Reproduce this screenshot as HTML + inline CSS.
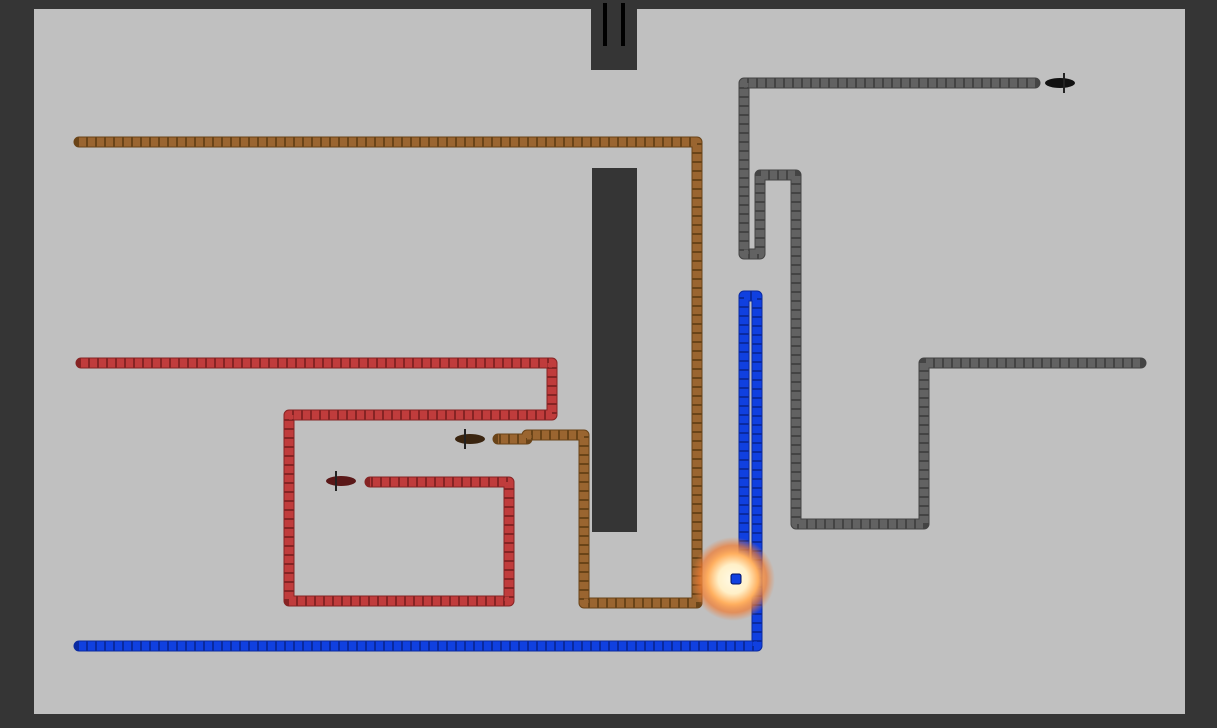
<!DOCTYPE html>
<html><head><meta charset="utf-8"><style>
html,body{margin:0;padding:0;background:#353535;}
svg{display:block;}
</style></head><body>
<svg width="1217" height="728" viewBox="0 0 1217 728" xmlns="http://www.w3.org/2000/svg">
<defs>
<radialGradient id="ex" cx="50%" cy="50%" r="50%">
<stop offset="0" stop-color="#fffbe8"/>
<stop offset="0.35" stop-color="#fff0c8"/>
<stop offset="0.6" stop-color="#ffb060"/>
<stop offset="0.8" stop-color="#f07a30" stop-opacity="0.7"/>
<stop offset="1" stop-color="#f08040" stop-opacity="0"/>
</radialGradient>
</defs>
<rect width="1217" height="728" fill="#353535"/>
<rect x="34" y="9" width="1151" height="705" fill="#c0c0c0"/>
<rect x="591" y="0" width="46" height="70" fill="#353535"/>
<rect x="603" y="3" width="4" height="43" fill="#000"/>
<rect x="621" y="3" width="4" height="43" fill="#000"/>
<rect x="592" y="168" width="45" height="364" fill="#353535"/>
<g fill="none" stroke-linejoin="round" stroke-linecap="round">
<polyline points="1035,83 744,83 744,254 760,254 760,175 796,175 796,524 924,524 924,363 1141,363" stroke="#444" stroke-width="11"/>
<polyline points="1035,83 744,83 744,254 760,254 760,175 796,175 796,524 924,524 924,363 1141,363" stroke="#626262" stroke-width="9" stroke-linecap="butt" stroke-dasharray="7 2"/>
<polyline points="79,142 697,142 697,603 584,603 584,435 527,435 527,439 498,439" stroke="#6a4418" stroke-width="11"/>
<polyline points="79,142 697,142 697,603 584,603 584,435 527,435 527,439 498,439" stroke="#9a6530" stroke-width="9" stroke-linecap="butt" stroke-dasharray="7 2"/>
<polyline points="81,363 552,363 552,415 289,415 289,601 509,601 509,482 370,482" stroke="#862424" stroke-width="11"/>
<polyline points="81,363 552,363 552,415 289,415 289,601 509,601 509,482 370,482" stroke="#c03c3c" stroke-width="9" stroke-linecap="butt" stroke-dasharray="7 2"/>
<polyline points="79,646 757,646 757,296 744,296 744,565" stroke="#0a2aa0" stroke-width="11"/>
<polyline points="79,646 757,646 757,296 744,296 744,565" stroke="#1040e0" stroke-width="9" stroke-linecap="butt" stroke-dasharray="7 2"/>
</g>
<g>
<ellipse cx="1060" cy="83" rx="15" ry="5" fill="#111"/>
<rect x="1063" y="73" width="2" height="20" fill="#222"/>
<ellipse cx="470" cy="439" rx="15" ry="5" fill="#3a2510"/>
<rect x="464" y="429" width="2" height="20" fill="#222"/>
<ellipse cx="341" cy="481" rx="15" ry="5" fill="#5a1818"/>
<rect x="335" y="471" width="2" height="20" fill="#222"/>
</g>
<circle cx="733" cy="579" r="42" fill="url(#ex)"/>
<rect x="731" y="574" width="10" height="10" rx="2" fill="#1040e0" stroke="#001060" stroke-width="1"/>
</svg>
</body></html>
